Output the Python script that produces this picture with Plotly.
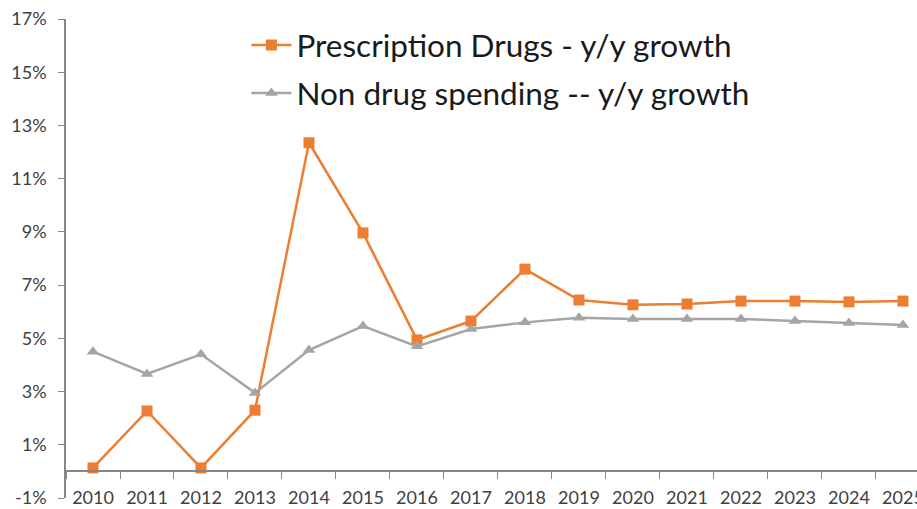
import plotly.graph_objects as go

years = [str(y) for y in range(2010, 2026)]
rx_growth = [0.13, 2.27, 0.13, 2.3, 12.35, 8.96, 4.94, 5.65, 7.6, 6.44, 6.26, 6.29, 6.4, 6.4, 6.37, 6.4]
non_drug_growth = [4.5, 3.66, 4.4, 2.95, 4.56, 5.46, 4.7, 5.35, 5.6, 5.77, 5.73, 5.73, 5.73, 5.65, 5.58, 5.5]
y_ticks = [-1, 1, 3, 5, 7, 9, 11, 13, 15, 17]
y_labels = [f"{v}%" for v in y_ticks]

ORANGE = "#ED7D31"
GRAY = "#A5A5A5"
AXIS = "#868686"
FONT = "Lato"

fig = go.Figure()
fig.add_trace(go.Scatter(
    x=years, y=rx_growth, mode="lines+markers",
    name="Prescription Drugs - y/y growth", legendgroup="a",
    line=dict(color=ORANGE, width=2.5),
    marker=dict(symbol="square", size=11, color=ORANGE),
))
fig.add_trace(go.Scatter(
    x=years, y=non_drug_growth, mode="lines+markers",
    name="Non drug spending -- y/y growth", legendgroup="b",
    line=dict(color=GRAY, width=2.5),
    marker=dict(symbol="triangle-up", size=11, color=GRAY),
))

fig.update_layout(
    width=917, height=509,
    margin=dict(l=66, r=0, t=19, b=11),
    paper_bgcolor="white", plot_bgcolor="white",
    font=dict(family=FONT, color="#404040", size=18),
    showlegend=True,
    legend=dict(
        x=0.212, y=1.002, xanchor="left", yanchor="top",
        font=dict(family=FONT, size=31.5, color="#1a1a1a"),
        bgcolor="rgba(0,0,0,0)", traceorder="grouped", tracegroupgap=4,
        itemwidth=40,
    ),
    xaxis=dict(
        type="category", range=[-0.5, 15.26],
        anchor="free", position=1/18,
        showline=True, linecolor=AXIS, linewidth=1.5,
        ticks="outside", tickson="boundaries", ticklen=7, tickcolor=AXIS,
        showgrid=False, zeroline=False, automargin=False,
        tickfont=dict(family=FONT, size=18, color="#404040"),
        ticklabelstandoff=10,
    ),
    yaxis=dict(
        range=[-1, 17], tickvals=y_ticks, ticktext=y_labels,
        showline=True, linecolor=AXIS, linewidth=1.5,
        ticks="outside", ticklen=6, tickcolor=AXIS,
        showgrid=False, zeroline=False, automargin=False,
        tickfont=dict(family=FONT, size=18, color="#404040"),
        ticklabelstandoff=8,
    ),
)

fig.write_html("out.html")
